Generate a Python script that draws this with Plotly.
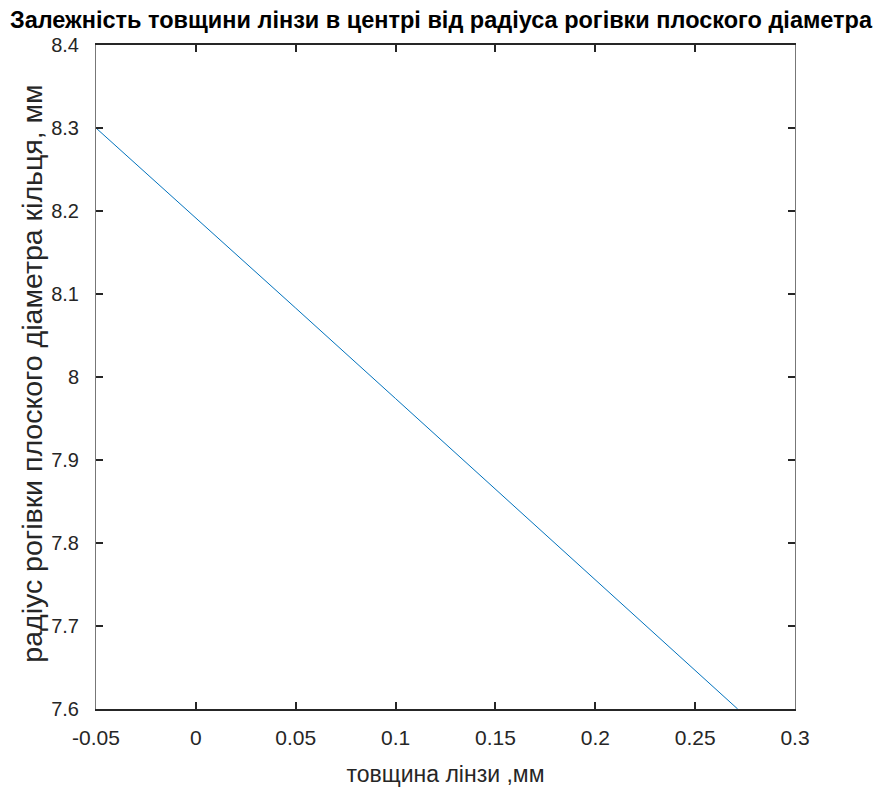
import plotly.graph_objects as go

thickness = [-0.05, 0.0, 0.05, 0.10, 0.15, 0.20, 0.25, 0.2713]
radius = [8.300, 8.192, 8.083, 7.974, 7.865, 7.756, 7.647, 7.600]

x_ticks = [-0.05, 0, 0.05, 0.1, 0.15, 0.2, 0.25, 0.3]
x_tick_labels = ["-0.05", "0", "0.05", "0.1", "0.15", "0.2", "0.25", "0.3"]
y_ticks = [7.6, 7.7, 7.8, 7.9, 8.0, 8.1, 8.2, 8.3, 8.4]
y_tick_labels = ["7.6", "7.7", "7.8", "7.9", "8", "8.1", "8.2", "8.3", "8.4"]

title_text = "Залежність товщини лінзи в центрі від радіуса рогівки плоского діаметра"
x_title = "товщина лінзи ,мм"
y_title = "радіус рогівки плоского діаметра кільця, мм"

font_main = "Liberation Sans, Arial, sans-serif"

# page body has an 8px margin; size the figure to fill the rest of the window
W, H = 873, 779
L, R, T, B = 88, 86, 37, 78
plot_w = W - L - R

fig = go.Figure()
fig.add_trace(go.Scatter(x=thickness, y=radius, mode="lines",
                         line=dict(color="#0072BD", width=1), showlegend=False))

fig.update_layout(
    width=W, height=H,
    margin=dict(l=L, r=R, t=T, b=B, autoexpand=False),
    paper_bgcolor="white", plot_bgcolor="white",
    title=dict(text="<b>" + title_text + "</b>", x=(441 - 8) / W, xanchor="center",
               y=1 - 12 / H, yanchor="middle",
               font=dict(family=font_main, size=23.5, color="black")),
    xaxis=dict(range=[-0.05, 0.3], tickvals=x_ticks, ticktext=x_tick_labels,
               ticks="inside", ticklen=7, tickwidth=2, tickcolor="#262626",
               showline=True, linecolor="#262626", linewidth=2, mirror="ticks",
               showgrid=False, zeroline=False, ticklabelstandoff=9, automargin=False,
               tickfont=dict(family=font_main, size=21, color="#262626"),
               title=dict(text=x_title, standoff=19,
                          font=dict(family=font_main, size=23, color="#262626"))),
    yaxis=dict(range=[7.6, 8.4], tickvals=y_ticks, ticktext=y_tick_labels,
               ticks="inside", ticklen=7, tickwidth=2, tickcolor="#262626",
               showline=True, linecolor="#777777", linewidth=1, mirror="ticks",
               showgrid=False, zeroline=False, ticklabelstandoff=12, automargin=False,
               tickfont=dict(family=font_main, size=20, color="#262626")),
    annotations=[dict(text=y_title, textangle=-90, xref="paper", yref="paper",
                      x=(24 - L) / plot_w, y=0.505, xanchor="center", yanchor="middle",
                      showarrow=False,
                      font=dict(family=font_main, size=28.5, color="#262626"))],
)

fig.write_html("out.html")
